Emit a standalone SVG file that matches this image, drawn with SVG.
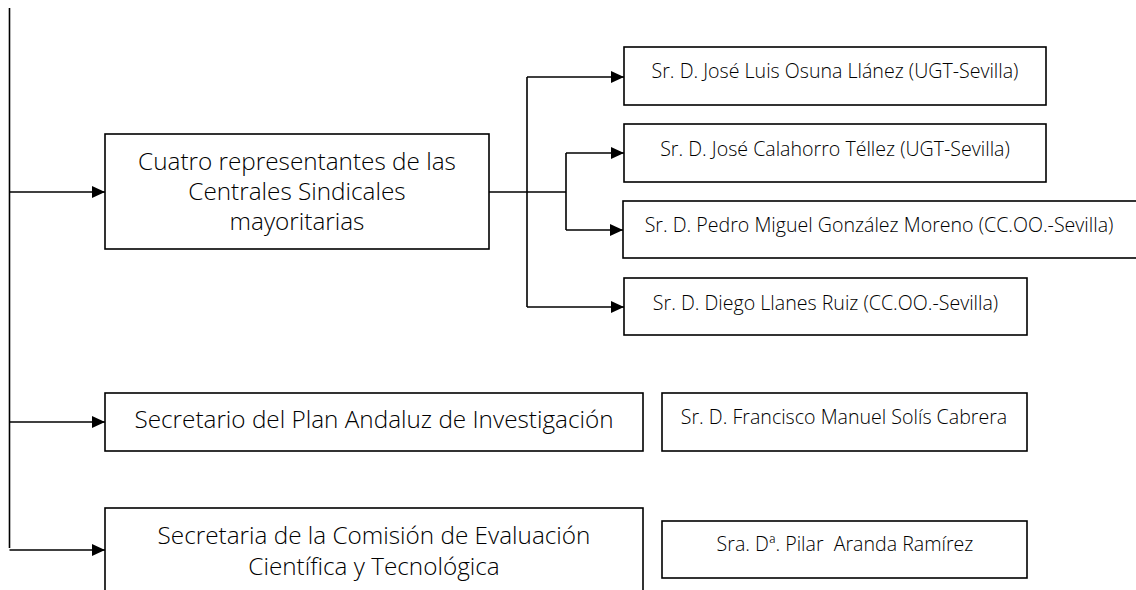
<svg xmlns="http://www.w3.org/2000/svg" width="1136" height="590" viewBox="0 0 1136 590">
  <style>
    .box { fill: #ffffff; stroke: #000000; stroke-width: 1.6; }
    .line { fill: none; stroke: #000000; stroke-width: 1.6; }
    .arrow { fill: none; stroke: #000000; stroke-width: 1.6; marker-end: url(#ah); }
    text { font-family: "Open Sans", "DejaVu Sans", sans-serif; font-weight: 300; fill: #000000; text-anchor: middle; }
    .big { font-size: 24.3px; }
    .small { font-size: 19.6px; }
  </style>
  <defs>
    <marker id="ah" markerUnits="userSpaceOnUse" markerWidth="13" markerHeight="12" refX="13" refY="6" orient="auto">
      <path d="M0,0 L13,6 L0,12 Z" fill="#000000"/>
    </marker>
  </defs>
  <rect width="1136" height="590" fill="#ffffff"/>

  <g id="connectors">
    <path class="line" d="M9.5,8 V548"/>
    <path class="arrow" d="M9.5,192 H105"/>
    <path class="arrow" d="M9.5,422 H105"/>
    <path class="arrow" d="M9.5,550 H105"/>
    <path class="line" d="M489,192 H566"/>
    <path class="line" d="M527,77 V307"/>
    <path class="line" d="M566,153 V230"/>
    <path class="arrow" d="M527,77 H624"/>
    <path class="arrow" d="M566,153 H624"/>
    <path class="arrow" d="M566,230 H623"/>
    <path class="arrow" d="M527,307 H624"/>
  </g>

  <g id="node-centrales">
    <rect class="box" x="105" y="134" width="384" height="115"/>
    <text class="big" x="297" y="170">Cuatro representantes de las</text>
    <text class="big" x="297" y="200">Centrales Sindicales</text>
    <text class="big" x="297" y="230">mayoritarias</text>
  </g>

  <g id="node-osuna">
    <rect class="box" x="624" y="47" width="422" height="58"/>
    <text class="small" x="835" y="78">Sr. D. José Luis Osuna Llánez (UGT-Sevilla)</text>
  </g>

  <g id="node-calahorro">
    <rect class="box" x="624" y="124" width="422" height="58"/>
    <text class="small" x="835" y="156">Sr. D. José Calahorro Téllez (UGT-Sevilla)</text>
  </g>

  <g id="node-gonzalez">
    <rect class="box" x="623" y="201" width="520" height="57"/>
    <text class="small" x="879" y="232">Sr. D. Pedro Miguel González Moreno (CC.OO.-Sevilla)</text>
  </g>

  <g id="node-llanes">
    <rect class="box" x="624" y="278" width="403" height="57"/>
    <text class="small" x="825.5" y="310">Sr. D. Diego Llanes Ruiz (CC.OO.-Sevilla)</text>
  </g>

  <g id="node-secretario">
    <rect class="box" x="105" y="393" width="538" height="58"/>
    <text class="big" x="374" y="428">Secretario del Plan Andaluz de Investigación</text>
  </g>

  <g id="node-solis">
    <rect class="box" x="662" y="393" width="365" height="58"/>
    <text class="small" x="844" y="424">Sr. D. Francisco Manuel Solís Cabrera</text>
  </g>

  <g id="node-secretaria">
    <rect class="box" x="105" y="508" width="538" height="100"/>
    <text class="big" x="374" y="544">Secretaria de la Comisión de Evaluación</text>
    <text class="big" x="374" y="575">Científica y Tecnológica</text>
  </g>

  <g id="node-aranda">
    <rect class="box" x="662" y="521" width="365" height="57"/>
    <text class="small" x="845" y="551" style="white-space:pre">Sra. Dª. Pilar  Aranda Ramírez</text>
  </g>
</svg>
